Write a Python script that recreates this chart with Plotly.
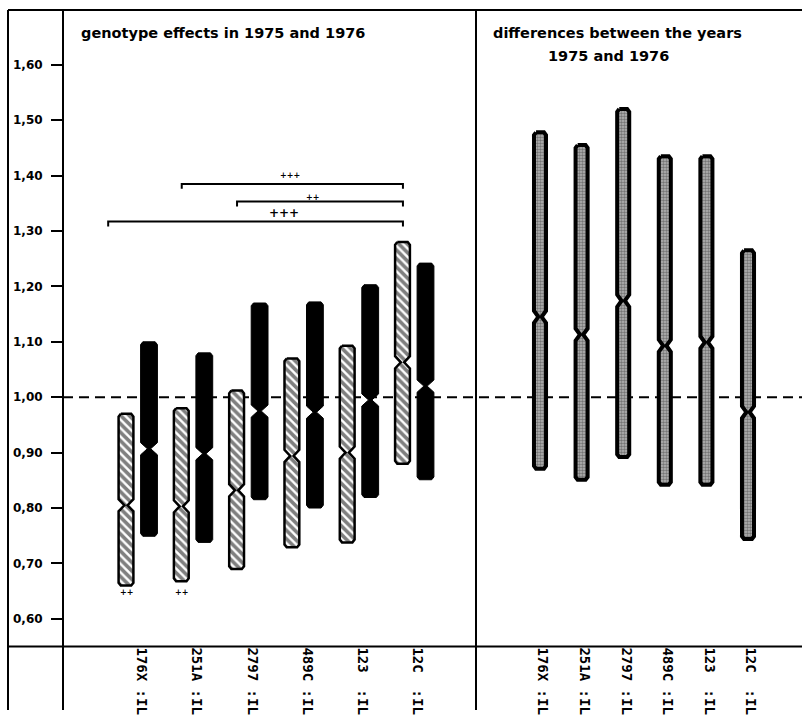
import plotly.graph_objects as go

# Genotypes and their axis labels
genotypes = ["176X", "251A", "2797", "489C", "123", "12C"]
tick_labels = ["176X :IL", "251A :IL", "2797 :IL", "489C :IL", "123  :IL", "12C  :IL"]

# 1975 genotype effects (hatched): upper limit, centre, lower limit
y1975_upper = [0.970, 0.980, 1.012, 1.070, 1.093, 1.280]
y1975_centre = [0.805, 0.803, 0.832, 0.894, 0.900, 1.063]
y1975_lower = [0.660, 0.668, 0.690, 0.729, 0.738, 0.880]

# 1976 genotype effects (solid): upper limit, centre, lower limit
y1976_upper = [1.100, 1.080, 1.170, 1.172, 1.203, 1.242]
y1976_centre = [0.907, 0.898, 0.975, 0.973, 0.995, 1.020]
y1976_lower = [0.749, 0.738, 0.815, 0.800, 0.819, 0.851]

# differences between the years 1975 and 1976
diff_upper = [1.478, 1.455, 1.520, 1.435, 1.435, 1.265]
diff_centre = [1.145, 1.113, 1.174, 1.093, 1.099, 0.973]
diff_lower = [0.871, 0.851, 0.892, 0.842, 0.842, 0.744]

# significance brackets: (start, end, level, marker)
bracket_start = [0.8, 1.8, -0.53]
bracket_end = [4.8, 4.8, 4.8]
bracket_level = [1.385, 1.353, 1.317]
bracket_text = ["+++", "++", "+++"]
bracket_text_x = [2.76, 3.17, 2.65]
bracket_text_y = [1.400, 1.361, 1.333]
bracket_text_size = [8, 8, 12]

# marks under single bars (1975 series)
below_idx = [0, 1]
below_text = ["++", "++"]
below_y = [0.647, 0.647]

W, H = 802, 715
INK = "black"
FONT = "DejaVu Sans"

# frame geometry in pixels
X_OUT, X_AX, X_MID = 8, 63, 476
Y_TOP, Y_BASE = 10, 651

OFFSET = 0.208


def px(x):
    return x / W


def py(y):
    return 1 - y / H


def notched(cxs, hw, tops, cents, bots, waist, taper, rx, ry):
    xs, ys = [], []
    for cx, t, c, b in zip(cxs, tops, cents, bots):
        xs += [cx - hw + rx, cx + hw - rx, cx + hw, cx + hw, cx + waist, cx + hw,
               cx + hw, cx + hw - rx, cx - hw + rx, cx - hw, cx - hw, cx - waist,
               cx - hw, cx - hw, cx - hw + rx, None]
        ys += [t, t, t - ry, c + taper, c, c - taper,
               b + ry, b, b, b + ry, c - taper, c,
               c + taper, t - ry, t, None]
    return xs, ys


idx = list(range(len(genotypes)))
x75 = [i - OFFSET for i in idx]
x76 = [i + OFFSET for i in idx]

fig = go.Figure()

# 1975 hatched bars
xs, ys = notched(x75, 0.134, y1975_upper, y1975_centre, y1975_lower, 0.03, 0.011, 0.04, 0.005)
fig.add_trace(go.Scatter(
    x=xs, y=ys, mode="lines", fill="toself", xaxis="x", yaxis="y",
    line=dict(color=INK, width=2.5),
    fillcolor="white",
    fillpattern=dict(shape="\\", fgcolor=INK, bgcolor="white", size=6, solidity=0.6),
    hoverinfo="skip", showlegend=False,
))

# 1976 solid bars
xs, ys = notched(x76, 0.152, y1976_upper, y1976_centre, y1976_lower, 0.03, 0.011, 0.04, 0.005)
fig.add_trace(go.Scatter(
    x=xs, y=ys, mode="lines", fill="toself", xaxis="x", yaxis="y",
    line=dict(color=INK, width=1), fillcolor=INK,
    hoverinfo="skip", showlegend=False,
))

# differences panel: stippled bars
xs, ys = notched(idx, 0.145, diff_upper, diff_centre, diff_lower, 0.04, 0.011, 0.05, 0.005)
fig.add_trace(go.Scatter(
    x=xs, y=ys, mode="lines", fill="toself", xaxis="x2", yaxis="y",
    line=dict(color=INK, width=4),
    fillcolor="#8c8c8c",
    fillpattern=dict(shape=".", fgcolor="#2a2a2a", bgcolor="#bdbdbd", size=3, solidity=0.6),
    hoverinfo="skip", showlegend=False,
))

# significance brackets
for s, e, lv in zip(bracket_start, bracket_end, bracket_level):
    fig.add_trace(go.Scatter(
        x=[s, s, e, e], y=[lv - 0.009, lv, lv, lv - 0.009], mode="lines",
        xaxis="x", yaxis="y", line=dict(color=INK, width=2),
        hoverinfo="skip", showlegend=False,
    ))

annotations = []
for tx, ty, tt, ts in zip(bracket_text_x, bracket_text_y, bracket_text, bracket_text_size):
    annotations.append(dict(x=tx, y=ty, xref="x", yref="y", text=tt, showarrow=False,
                            font=dict(family=FONT, size=ts, color=INK, weight="bold"),
                            xanchor="center", yanchor="middle"))
for i, tt, ty in zip(below_idx, below_text, below_y):
    annotations.append(dict(x=x75[i], y=ty, xref="x", yref="y", text=tt, showarrow=False,
                            font=dict(family=FONT, size=8, color=INK, weight="bold"),
                            xanchor="center", yanchor="middle"))

# panel titles
title_font = dict(family=FONT, size=14.5, color=INK, weight="bold")
annotations.append(dict(x=px(79), y=py(33), xref="paper", yref="paper",
                        text="genotype effects in 1975 and 1976", showarrow=False,
                        font=title_font, xanchor="left", yanchor="middle"))
annotations.append(dict(x=px(491), y=py(33), xref="paper", yref="paper",
                        text="differences between the years", showarrow=False,
                        font=title_font, xanchor="left", yanchor="middle"))
annotations.append(dict(x=px(546), y=py(56), xref="paper", yref="paper",
                        text="1975 and 1976", showarrow=False,
                        font=title_font, xanchor="left", yanchor="middle"))

# frame lines
frame = [
    (X_OUT, Y_TOP, W, Y_TOP),
    (X_OUT, Y_BASE, W, Y_BASE),
    (X_OUT, Y_TOP, X_OUT, H),
    (X_AX, Y_TOP, X_AX, H),
    (X_MID, Y_TOP, X_MID, H),
]
shapes = [dict(type="line", xref="paper", yref="paper", x0=px(a), y0=py(b), x1=px(c), y1=py(d),
               line=dict(color=INK, width=2)) for a, b, c, d in frame]
# reference level 1.00
shapes.append(dict(type="line", xref="paper", yref="y", x0=px(X_AX), x1=1, y0=1.0, y1=1.0,
                   layer="below", line=dict(color=INK, width=2, dash="10px,6px")))

y_ticks = [0.6, 0.7, 0.8, 0.9, 1.0, 1.1, 1.2, 1.3, 1.4, 1.5, 1.6]
y_text = [f"{v:.2f}".replace(".", ",") for v in y_ticks]

ydom = [py(Y_BASE), py(Y_TOP)]
yr = [1 - (Y_BASE - 400) / 558, 1 + (400 - Y_TOP) / 558]

label_font = dict(family="DejaVu Sans Mono", size=14, color=INK, weight="bold")

fig.update_layout(
    width=W, height=H,
    margin=dict(l=0, r=0, t=0, b=0),
    paper_bgcolor="white", plot_bgcolor="white",
    showlegend=False,
    xaxis=dict(domain=[px(X_AX), px(X_MID)], range=[(X_AX - 137.5) / 55.3, (X_MID - 137.5) / 55.3],
               anchor="y", showgrid=False, zeroline=False, showline=False,
               tickmode="array", tickvals=idx, ticktext=tick_labels, tickangle=90,
               ticks="", tickfont=label_font, ticklabelshift=4),
    xaxis2=dict(domain=[px(X_MID), 1], range=[(X_MID - 540) / 41.6, (W - 540) / 41.6],
                anchor="y", showgrid=False, zeroline=False, showline=False,
                tickmode="array", tickvals=idx, ticktext=tick_labels, tickangle=90,
                ticks="", tickfont=label_font, ticklabelshift=3),
    yaxis=dict(domain=ydom, range=yr, anchor="x", showgrid=False, zeroline=False,
               showline=False, tickmode="array", tickvals=y_ticks, ticktext=y_text,
               ticks="outside", ticklen=11, tickwidth=2, tickcolor=INK,
               ticklabelstandoff=6,
               tickfont=dict(family=FONT, size=12, color=INK, weight="bold")),
    shapes=shapes,
    annotations=annotations,
)

fig.write_html("out.html")
